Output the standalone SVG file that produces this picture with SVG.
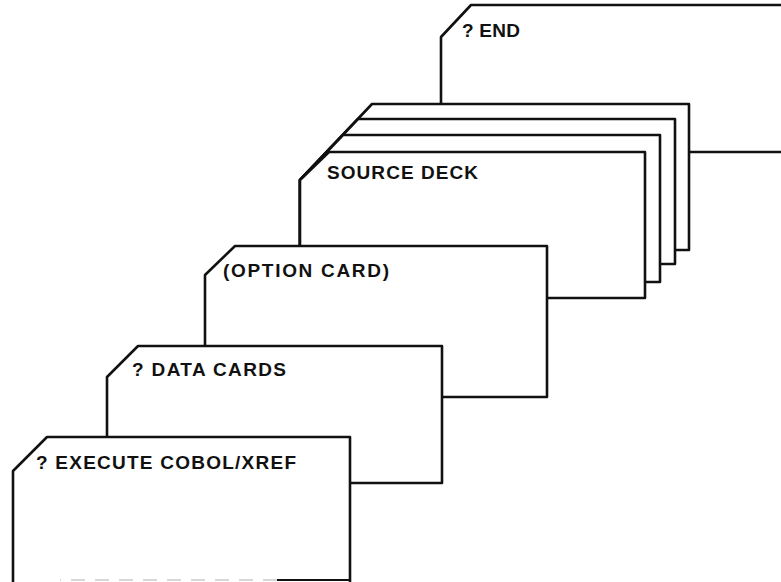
<svg xmlns="http://www.w3.org/2000/svg" width="781" height="582" viewBox="0 0 781 582">
  <style>
    .card { fill: #fff; stroke: #111; stroke-width: 2.6; stroke-linejoin: round; }
    .label { font-family: "Liberation Sans", Arial, sans-serif; font-weight: bold; font-size: 19px; fill: #111; }
  </style>
  <rect width="781" height="582" fill="#fff"/>

  <!-- Cards are drawn back to front; each white fill hides the card behind it -->
  <g id="end-card">
    <path class="card" d="M441,37 L471,5 L790,5 L790,152 L441,152 Z"/>
    <text class="label" x="462" y="37" textLength="58" lengthAdjust="spacing">? END</text>
  </g>

  <g id="source-deck">
    <path class="card" d="M372,104 L689,104 L689,250 L300,250 L300,180 Z"/>
    <path class="card" d="M358,119 L675,119 L675,264 L300,264 L300,180 Z"/>
    <path class="card" d="M343,135 L660,135 L660,282 L300,282 L300,180 Z"/>
    <path class="card" d="M329,152 L645,152 L645,298 L300,298 L300,180 Z"/>
    <text class="label" x="327" y="179" textLength="151" lengthAdjust="spacing">SOURCE DECK</text>
  </g>

  <g id="option-card">
    <path class="card" d="M235,246 L547,246 L547,397 L205,397 L205,275 Z"/>
    <text class="label" x="223" y="277" textLength="166" lengthAdjust="spacing">(OPTION CARD)</text>
  </g>

  <g id="data-cards">
    <path class="card" d="M138,346 L442,346 L442,483 L107,483 L107,377 Z"/>
    <text class="label" x="132" y="376" textLength="154" lengthAdjust="spacing">? DATA CARDS</text>
  </g>

  <g id="execute-card">
    <path class="card" d="M47,437 L350,437 L350,590 L13,590 L13,471 Z"/>
    <!-- faint lower edge of the front card -->
    <line x1="350" y1="580" x2="277" y2="580" stroke="#111" stroke-width="2"/>
    <line x1="277" y1="580" x2="60" y2="580" stroke="#ccc" stroke-width="1.5" stroke-dasharray="14 10"/>
    <text class="label" x="36" y="469" textLength="260" lengthAdjust="spacing">? EXECUTE COBOL/XREF</text>
  </g>

  <g id="connectors"></g>
</svg>
